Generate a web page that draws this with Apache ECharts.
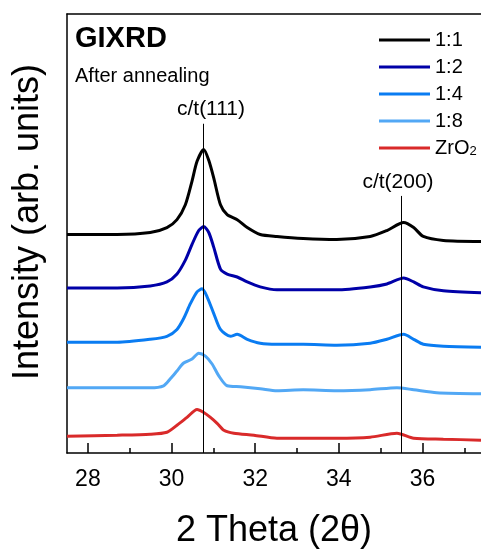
<!DOCTYPE html>
<html>
<head>
<meta charset="utf-8">
<script src="https://cdn.jsdelivr.net/npm/echarts@6/dist/echarts.min.js"></script>
<style>
html,body{margin:0;padding:0;background:#fff;}
#c{width:481px;height:554px;}
</style>
</head>
<body>
<div id="c"></div>
<script>
// ---- data (2θ in degrees, intensity in arbitrary offset units) ----
const seriesNames = ['1:1', '1:2', '1:4', '1:8', 'ZrO2'];

const theta11 = [27.5, 28.7, 29.49, 29.89, 30.13, 30.33, 30.49, 30.61, 30.77, 30.89, 31.01, 31.17, 31.33, 31.57, 31.81, 32.12, 32.52, 33.15, 33.95, 34.75, 35.15, 35.55, 35.79, 36.02, 36.5, 37.4];
const int11   = [221, 221, 223, 228, 236, 251, 275, 295, 307, 296, 278, 251, 241, 236, 228, 221, 219, 217, 216, 219, 225, 233, 228, 219, 215, 214];

const theta12 = [27.5, 28.7, 29.49, 29.89, 30.13, 30.33, 30.49, 30.65, 30.77, 30.89, 31.01, 31.17, 31.33, 31.57, 31.81, 32.12, 32.52, 33.15, 33.95, 34.75, 35.15, 35.55, 35.79, 36.02, 36.5, 37.4];
const int12   = [167, 167, 169, 173, 181, 195, 211, 225, 229, 223, 208, 186, 181, 178, 173, 168, 165, 165, 165, 168, 171, 177, 173, 168, 164, 162];

const theta14 = [27.5, 28.7, 29.49, 29.89, 30.13, 30.29, 30.45, 30.61, 30.73, 30.85, 31.01, 31.17, 31.41, 31.57, 31.81, 32.12, 32.52, 33.15, 33.95, 34.75, 35.15, 35.55, 35.79, 36.02, 36.5, 37.4];
const int14   = [112, 112, 115, 118, 125, 136, 151, 163, 166, 158, 141, 125, 118, 120, 115, 111, 110, 110, 109, 111, 115, 120, 115, 110, 108, 107];

const theta18 = [27.5, 28.7, 29.49, 29.81, 29.97, 30.13, 30.29, 30.49, 30.65, 30.81, 30.97, 31.13, 31.33, 31.65, 32.12, 32.52, 33.15, 33.95, 34.75, 35.39, 35.79, 36.34, 37.4];
const int18   = [66, 66, 66, 68, 75, 83, 91, 95, 101, 98, 90, 78, 68, 67, 65, 63, 64, 63, 64, 66, 64, 61, 60];

const thetaZr = [27.5, 28.7, 29.49, 29.89, 30.13, 30.37, 30.61, 30.77, 30.93, 31.09, 31.25, 31.49, 31.97, 32.52, 33.15, 33.95, 34.75, 35.39, 35.79, 36.5, 37.4];
const intZr   = [17, 18, 19, 21, 28, 36, 44, 41, 36, 30, 23, 20, 18, 15, 15, 15, 16, 20, 15, 14, 13];

const thetaSets = [theta11, theta12, theta14, theta18, thetaZr];
const intSets   = [int11, int12, int14, int18, intZr];

const majorTicks = [28, 30, 32, 34, 36];
const minorTicks = [29, 31, 33, 35, 37];

const peakNames  = ['c/t(111)', 'c/t(200)'];
const peakTheta  = [30.76, 35.5];
const peakTop    = [333, 260];

const xMin = 27.5, xMax = 37.4, yMin = 0, yMax = 444;
const yMidTick = [222];

// ---- style ----
const colors = ['#000000', '#0000a8', '#0a7cf2', '#52a8f5', '#d92a2a'];
const FF = 'Liberation Sans, Arial, sans-serif';

const chart = echarts.init(document.getElementById('c'), null, {renderer: 'canvas'});

const series = seriesNames.map((name, i) => ({
  name: name,
  type: 'line',
  xAxisIndex: 0,
  yAxisIndex: 0,
  data: thetaSets[i].map((t, k) => [t, intSets[i][k]]),
  showSymbol: false,
  symbol: 'none',
  smooth: 0.25,
  lineStyle: {color: colors[i], width: 3},
  itemStyle: {color: colors[i]},
  emphasis: {disabled: true},
  z: 2
}));

series[0].markLine = {
  symbol: 'none',
  silent: true,
  animation: false,
  label: {show: false},
  lineStyle: {color: '#000', width: 1, type: 'solid'},
  data: peakTheta.map((t, i) => [{coord: [t, peakTop[i]]}, {coord: [t, yMin]}])
};

const option = {
  animation: false,
  backgroundColor: '#fff',
  textStyle: {fontFamily: FF},
  grid: {left: 67, top: 14, right: 0, bottom: 96, containLabel: false},
  xAxis: [
    {
      type: 'value', position: 'bottom', min: xMin, max: xMax,
      axisLine: {show: true, onZero: false, lineStyle: {color: '#000', width: 1.5}},
      axisTick: {show: true, inside: true, length: 10, customValues: majorTicks, lineStyle: {color: '#000', width: 1.5}},
      axisLabel: {show: true, customValues: majorTicks, fontSize: 23, color: '#000', margin: 15, fontFamily: FF},
      splitLine: {show: false},
      name: '2 Theta (2θ)', nameLocation: 'middle', nameGap: 60,
      nameTextStyle: {fontSize: 36, color: '#000', fontFamily: FF}
    },
    {
      type: 'value', position: 'bottom', min: xMin, max: xMax,
      axisLine: {show: false},
      axisTick: {show: true, inside: true, length: 5, customValues: minorTicks, lineStyle: {color: '#000', width: 1.5}},
      axisLabel: {show: false},
      splitLine: {show: false}
    },
    {
      type: 'value', position: 'top', min: xMin, max: xMax,
      axisLine: {show: true, onZero: false, lineStyle: {color: '#000', width: 1.5}},
      axisTick: {show: false},
      axisLabel: {show: false},
      splitLine: {show: false}
    }
  ],
  yAxis: {
    type: 'value', min: yMin, max: yMax,
    axisLine: {show: true, onZero: false, lineStyle: {color: '#000', width: 1.5}},
    axisTick: {show: true, inside: true, length: 5, customValues: yMidTick, lineStyle: {color: '#000', width: 1.5}},
    axisLabel: {show: false},
    splitLine: {show: false}
  },
  legend: {
    data: seriesNames,
    orient: 'vertical',
    left: 374, top: 25,
    icon: 'rect',
    itemWidth: 51, itemHeight: 3,
    itemGap: 7,
    selectedMode: false,
    formatter: function (name) { return name === 'ZrO2' ? '{n|ZrO}{s|2}' : '{n|' + name + '}'; },
    textStyle: {
      fontSize: 20, color: '#000', fontFamily: FF, lineHeight: 20,
      rich: {
        n: {fontSize: 20, lineHeight: 20, color: '#000', fontFamily: FF, verticalAlign: 'bottom'},
        s: {fontSize: 13, lineHeight: 20, color: '#000', fontFamily: FF, verticalAlign: 'bottom'}
      }
    }
  },
  graphic: [
    {type: 'text', left: 75, top: 24, style: {text: 'GIXRD', font: 'bold 29px ' + FF, fill: '#000'}},
    {type: 'text', left: 75, top: 66, style: {text: 'After annealing', font: '20px ' + FF, fill: '#000'}},
    {type: 'text', x: 211, y: 109, style: {text: peakNames[0], font: '21px ' + FF, fill: '#000', align: 'center', verticalAlign: 'middle'}},
    {type: 'text', x: 398, y: 182, style: {text: peakNames[1], font: '21px ' + FF, fill: '#000', align: 'center', verticalAlign: 'middle'}},
    {type: 'text', x: 28, y: 222, rotation: Math.PI / 2, style: {text: 'Intensity (arb. units)', font: '36px ' + FF, fill: '#000', align: 'center', verticalAlign: 'middle'}}
  ],
  series: series
};

chart.setOption(option);
</script>
</body>
</html>
